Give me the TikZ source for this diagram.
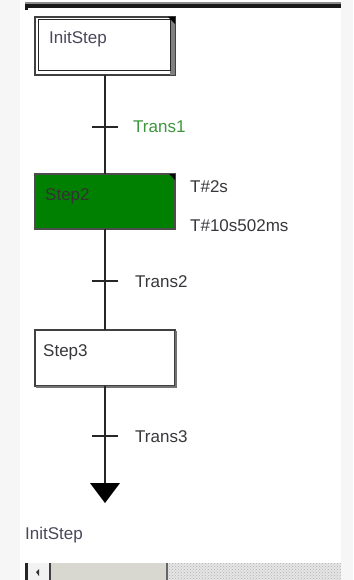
\documentclass[tikz,border=0pt]{standalone}
\usepackage{fontspec}
\setmainfont{Liberation Sans}
\usetikzlibrary{calc,patterns}
\definecolor{stepgreen}{RGB}{0,128,0}
\definecolor{transgreen}{RGB}{60,150,60}
\definecolor{txt}{RGB}{55,55,60}
\definecolor{inittxt}{RGB}{75,70,90}
\definecolor{margin}{RGB}{246,246,246}
\definecolor{thumb}{RGB}{216,216,208}
\begin{document}
\begin{tikzpicture}[x=1pt,y=-1pt,
  lbl/.style={anchor=base west,inner sep=0pt,text=txt,font=\fontsize{17}{20}\selectfont},
  stepbox/.style={draw=black!75,line width=1.1pt,rectangle,inner sep=0pt,outer sep=0pt,minimum width=140pt,minimum height=56pt},
  flow/.style={line width=1.4pt,black!85},
  tick/.style={line width=1.2pt,black!85}]
\useasboundingbox (0,0) rectangle (353,580);
\fill[margin] (0,0) rectangle (353,580);
\fill[white] (20,0) rectangle (341,580);
% top bar
\fill[black!45] (25,2) rectangle (341,4);
\fill[black!90] (25,4) rectangle (341,8);
\fill[black!90] (25,4) rectangle (28,10);
% InitStep
\node[stepbox,minimum height=58pt] (init) at (105,46) {};
\fill[black!50] ($(init.north east)+(-5,3)$) rectangle (init.south east);
\draw[black!85,line width=1pt] ($(init.north west)+(3,3)$) rectangle ($(init.south east)+(-5,-4)$);
\fill[black] ($(init.north east)+(-7,0)$) -- (init.north east) -- ($(init.north east)+(0,7)$) -- cycle;
\node[lbl,text=inittxt] (tinit) at (49,44) {InitStep};
% Step2
\node[stepbox,fill=stepgreen,draw=black!70,minimum height=55pt] (step2) at (105,201.5) {};
\fill[black] ($(step2.north east)+(-6,0)$) -- (step2.north east) -- ($(step2.north east)+(0,6)$) -- cycle;
\node[lbl,text=black!80] (tstep2) at (45,200) {Step2};
\node[lbl] (act1) at (190,192) {T\#2s};
\node[lbl] (act2) at (190,231) {T\#10s502ms};
% Step3
\node[stepbox,fill=white,minimum height=56pt] (step3) at (105,358) {};
\draw[black!55,line width=1.2pt] ($(step3.north east)+(1,1)$) -- ($(step3.south east)+(1,1)$) -- ($(step3.south west)+(1,1)$);
\node[lbl] (tstep3) at (43,356) {Step3};
% connectors
\coordinate (t1) at (105,127);
\coordinate (t2) at (105,281);
\coordinate (t3) at (105,436);
\coordinate (arr) at (105,483);
\draw[flow] (init.south) -- (step2.north);
\draw[flow] (step2.south) -- (step3.north);
\draw[flow] (step3.south) -- (arr);
\draw[tick] ($(t1)+(-13,0)$) -- ($(t1)+(13,0)$);
\draw[tick] ($(t2)+(-13,0)$) -- ($(t2)+(13,0)$);
\draw[tick] ($(t3)+(-13,0)$) -- ($(t3)+(13,0)$);
\fill[black] ($(arr)+(-15,0)$) -- ($(arr)+(15,0)$) -- ($(arr)+(0,20)$) -- cycle;
\node[lbl,text=transgreen] (tr1) at (133,133) {Trans1};
\node[lbl] (tr2) at (135,287) {Trans2};
\node[lbl] (tr3) at (135,442) {Trans3};
\node[lbl,text=inittxt] (next) at (25,539) {InitStep};
% scrollbar
\fill[black!5] (28,563) rectangle (50,580);
\fill[black!85] (25,563) rectangle (28,580);
\fill[black!75] (49,563) rectangle (51,580);
\fill[black!80] (36,572) -- (39,569) -- (39,576) -- cycle;
\fill[thumb] (51,563) rectangle (167,580);
\fill[black!60] (166,563) rectangle (168,580);
\fill[black!10] (168,563) rectangle (341,580);
\fill[pattern=crosshatch dots,pattern color=black!30] (168,563) rectangle (341,580);
\end{tikzpicture}
\end{document}
